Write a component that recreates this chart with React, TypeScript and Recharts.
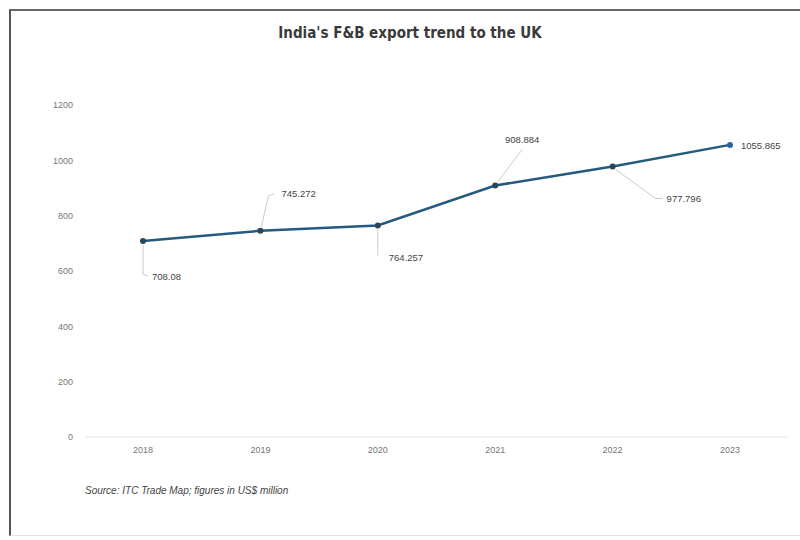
import { LineChart, Line, XAxis, YAxis, LabelList } from 'recharts'

const years = ['2018', '2019', '2020', '2021', '2022', '2023']
const exports = [708.08, 745.272, 764.257, 908.884, 977.796, 1055.865]
const valueLabels = ['708.08', '745.272', '764.257', '908.884', '977.796', '1055.865']
const yTicks = [0, 200, 400, 600, 800, 1000, 1200]

const data = years.map((year, i) => ({ year, value: exports[i], label: valueLabels[i] }))

// where each data label sits relative to its point, with its leader line
const placements = [
  { dx: 9, dy: 35, anchor: 'start', leader: [[0, 4], [0, 33], [5, 35]] },
  { dx: 21, dy: -37, anchor: 'start', leader: [[1, -4], [8, -35], [14, -37]] },
  { dx: 11, dy: 32, anchor: 'start', leader: [[0, 4], [0, 30]] },
  { dx: 27, dy: -46, anchor: 'middle', leader: [[2, -3], [27, -36]] },
  { dx: 54, dy: 32, anchor: 'start', leader: [[3, 3], [43, 32], [50, 32]] },
  { dx: 11, dy: 1, anchor: 'start', leader: [] },
]

const ValueLabel = (props: any) => {
  const { x, y, index, value } = props
  const p = placements[index]
  const pts = p.leader.map(([a, b]: number[]) => `${x + a},${y + b}`).join(' ')
  return (
    <g>
      {p.leader.length > 0 && (
        <polyline points={pts} fill="none" stroke="#bdbdbd" strokeWidth={0.8} />
      )}
      <text
        x={x + p.dx}
        y={y + p.dy}
        textAnchor={p.anchor}
        dominantBaseline="central"
        fontSize={9.5}
        fill="#444"
      >
        {value}
      </text>
    </g>
  )
}

const Dot = (props: any) => {
  const { cx, cy, index } = props
  const last = index === exports.length - 1
  return <circle cx={cx} cy={cy} r={3} fill={last ? '#2a63a4' : '#2b4558'} stroke="none" />
}

export default function App() {
  return (
    <div
      style={{
        position: 'absolute',
        left: 0,
        top: 0,
        width: 800,
        height: 540,
        background: '#fff',
        fontFamily: "'Liberation Sans', Arial, sans-serif",
      }}
    >
      <div
        style={{
          position: 'absolute',
          left: 9,
          top: 9,
          width: 791,
          height: 527,
          borderTop: '2px solid #6a6a6a',
          borderLeft: '2px solid #555',
          borderBottom: '1px solid #e2e2e2',
          boxSizing: 'border-box',
        }}
      />
      <div
        style={{
          position: 'absolute',
          left: 0,
          width: 820,
          top: 24,
          textAlign: 'center',
          fontFamily: "'DejaVu Sans Condensed', 'Liberation Sans Narrow', sans-serif",
          fontWeight: 'bold',
          fontSize: 15,
          color: '#3a3a3a',
        }}
      >
        India's F&amp;B export trend to the UK
      </div>
      <div style={{ position: 'absolute', left: 0, top: 0 }}>
        <LineChart
          width={800}
          height={540}
          data={data}
          margin={{ top: 105, right: 12, bottom: 73, left: 25 }}
        >
          <XAxis
            dataKey="year"
            height={30}
            padding={{ left: 58, right: 58 }}
            axisLine={{ stroke: '#e3e3e3' }}
            tickLine={false}
            tickMargin={4}
            tick={{ fontSize: 9, fill: '#777' }}
          />
          <YAxis
            width={60}
            domain={[0, 1200]}
            ticks={yTicks}
            axisLine={false}
            tickLine={false}
            tickMargin={6}
            tick={{ fontSize: 9, fill: '#777' }}
          />
          <Line
            type="linear"
            dataKey="value"
            stroke="#235a7d"
            strokeWidth={2.5}
            dot={<Dot />}
            activeDot={false}
            isAnimationActive={false}
          >
            <LabelList dataKey="label" content={<ValueLabel />} />
          </Line>
        </LineChart>
      </div>
      <div
        style={{
          position: 'absolute',
          left: 85,
          top: 485,
          fontStyle: 'italic',
          fontSize: 10,
          color: '#444',
        }}
      >
        Source: ITC Trade Map; figures in US$ million
      </div>
    </div>
  )
}
